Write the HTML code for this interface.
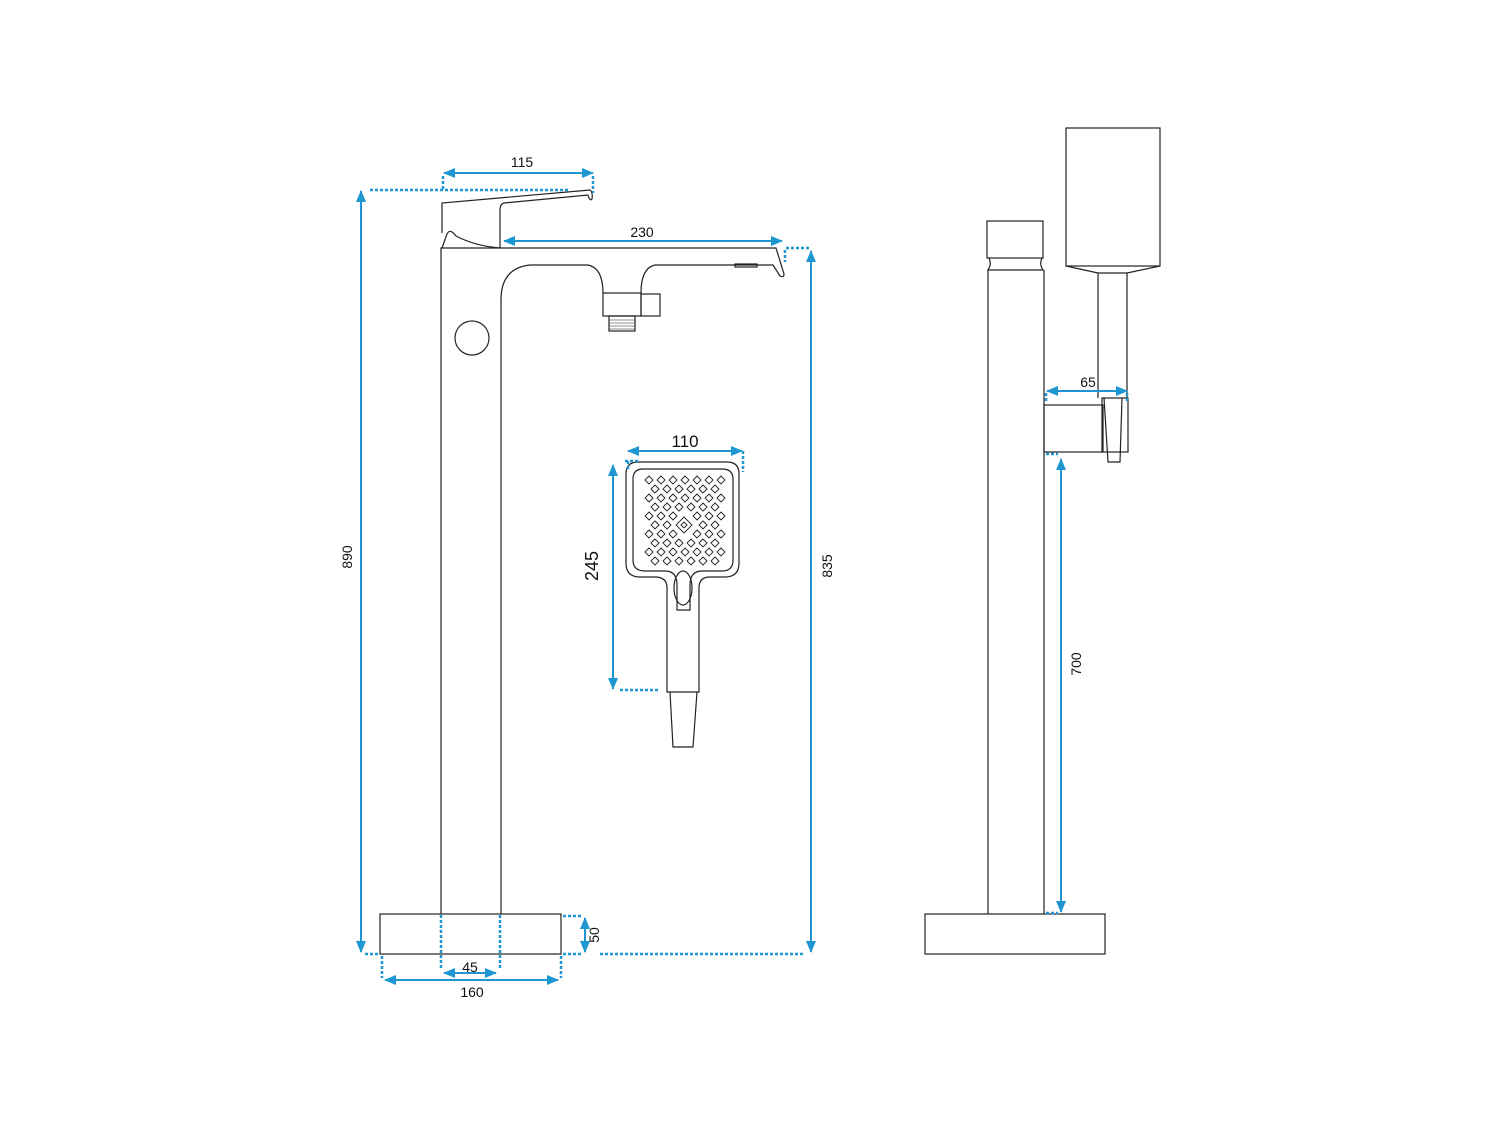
<!DOCTYPE html>
<html><head><meta charset="utf-8"><style>
html,body{margin:0;padding:0;background:#fff;}
svg{display:block;}
text{font-family:"Liberation Sans",sans-serif;fill:#111;}
</style></head><body>
<svg width="1500" height="1125" viewBox="0 0 1500 1125" xmlns="http://www.w3.org/2000/svg">
<defs>
<marker id="ar" markerWidth="12" markerHeight="10" refX="11" refY="5" orient="auto-start-reverse" markerUnits="userSpaceOnUse">
<path d="M0,0 L12,5 L0,10 Z" fill="#1e96d2"/></marker>
</defs>
<g fill="none" stroke="#222" stroke-width="1.2">
<path d="M441,914 V248 H776 L784,274 Q784,278 780,276 L773,265 H655 Q641,268 641,293 M603,293 Q603,268 588,265 H530 Q501,268 501,300 V914"/>
<rect x="735" y="264" width="22" height="3"/>
<rect x="603" y="293" width="38" height="23"/>
<rect x="641" y="294" width="19" height="22"/>
<rect x="609" y="316" width="26" height="15"/>
<path d="M609,320 H635 M609,323 H635 M609,326 H635 M609,329 H635" stroke-width="0.6"/>
<circle cx="472" cy="338" r="17"/>
<path d="M442,233 V203 L590,190 Q593,192 592,199 Q591,201 589,198 L588,195 L504,203 Q500,204 500,210 V248 M447,234 Q450,228 456,236 Q475,246 500,248 M442,248 L447,234"/>
<rect x="380" y="914" width="181" height="40"/>
<path d="M667,692 V588 Q667,577 655,577 H640 Q626,577 626,563 V474 Q626,462 638,462 H727 Q739,462 739,474 V563 Q739,577 725,577 H710 Q699,577 699,588 V692 Z"/>
<path d="M677,610 V585 Q677,571 665,571 H645 Q633,571 633,560 V479 Q633,469 643,469 H722 Q733,469 733,479 V560 Q733,571 722,571 H702 Q690,571 690,585 V610 Z"/>
<ellipse cx="683" cy="588" rx="9" ry="17"/>
<path d="M670,692 L673,747 H693 L697,692"/>
<rect x="987" y="221" width="56" height="37"/>
<path d="M989,258 Q992,264 988,270 H1043 Q1039,264 1042,258 M988,270 V914 M1044,270 V914"/>
<rect x="925" y="914" width="180" height="40"/>
<rect x="1066" y="128" width="94" height="138"/>
<path d="M1066,266 L1098,273 H1127 L1160,266 M1098,273 V398 M1127,273 V398"/>
<rect x="1044" y="405" width="59" height="47"/>
<rect x="1102" y="398" width="26" height="54"/>
<path d="M1104,398 L1108,462 H1120 L1122,398"/>
</g>
<g stroke="#1e96d2" stroke-width="2" fill="none">
<path d="M361,952 V191" marker-start="url(#ar)" marker-end="url(#ar)"/>
<path d="M811,952 V251" marker-start="url(#ar)" marker-end="url(#ar)"/>
<path d="M444,173 H593" marker-start="url(#ar)" marker-end="url(#ar)"/>
<path d="M504,241 H782" marker-start="url(#ar)" marker-end="url(#ar)"/>
<path d="M585,918 V952" marker-start="url(#ar)" marker-end="url(#ar)"/>
<path d="M385,980 H558" marker-start="url(#ar)" marker-end="url(#ar)"/>
<path d="M444,973 H496" marker-start="url(#ar)" marker-end="url(#ar)"/>
<path d="M628,451 H742" marker-start="url(#ar)" marker-end="url(#ar)"/>
<path d="M613,465 V689" marker-start="url(#ar)" marker-end="url(#ar)"/>
<path d="M1047,391 H1127" marker-start="url(#ar)" marker-end="url(#ar)"/>
<path d="M1061,459 V912" marker-start="url(#ar)" marker-end="url(#ar)"/>
</g>
<g stroke="#1e96d2" stroke-width="2.5" fill="none" stroke-dasharray="3,2">
<path d="M370,190 H568 M443,176 V190 M593,176 V193"/>
<path d="M786,248 H810 M785,250 V262"/>
<path d="M365,954 H380 M600,954 H805"/>
<path d="M563,916 H583 M563,954 H583"/>
<path d="M382,956 V978 M561,956 V978 M441,915 V970 M500,915 V970"/>
<path d="M625,461 H640 M628,461 V470 M743,451 V472 M620,690 H660"/>
<path d="M1046,393 V403 M1127,393 V403 M1046,454 H1058 M1046,913 H1058"/>
</g>
<g font-size="14">
<text x="522" y="167" text-anchor="middle">115</text>
<text x="642" y="237" text-anchor="middle">230</text>
<text x="470" y="972" text-anchor="middle">45</text>
<text x="472" y="997" text-anchor="middle">160</text>
<text x="1088" y="387" text-anchor="middle">65</text>
<text transform="translate(352,557) rotate(-90)" text-anchor="middle">890</text>
<text transform="translate(832,566) rotate(-90)" text-anchor="middle">835</text>
<text transform="translate(599,935) rotate(-90)" text-anchor="middle">50</text>
<text transform="translate(1081,664) rotate(-90)" text-anchor="middle">700</text>
</g>
<text x="685" y="447" text-anchor="middle" font-size="17">110</text>
<text transform="translate(598,566) rotate(-90)" text-anchor="middle" font-size="18">245</text>
<g fill="none" stroke="#222" stroke-width="0.9">
<path d="
M649,476 l4,4 l-4,4 l-4,-4z M661,476 l4,4 l-4,4 l-4,-4z M673,476 l4,4 l-4,4 l-4,-4z M685,476 l4,4 l-4,4 l-4,-4z M697,476 l4,4 l-4,4 l-4,-4z M709,476 l4,4 l-4,4 l-4,-4z M721,476 l4,4 l-4,4 l-4,-4z
M655,485 l4,4 l-4,4 l-4,-4z M667,485 l4,4 l-4,4 l-4,-4z M679,485 l4,4 l-4,4 l-4,-4z M691,485 l4,4 l-4,4 l-4,-4z M703,485 l4,4 l-4,4 l-4,-4z M715,485 l4,4 l-4,4 l-4,-4z
M649,494 l4,4 l-4,4 l-4,-4z M661,494 l4,4 l-4,4 l-4,-4z M673,494 l4,4 l-4,4 l-4,-4z M685,494 l4,4 l-4,4 l-4,-4z M697,494 l4,4 l-4,4 l-4,-4z M709,494 l4,4 l-4,4 l-4,-4z M721,494 l4,4 l-4,4 l-4,-4z
M655,503 l4,4 l-4,4 l-4,-4z M667,503 l4,4 l-4,4 l-4,-4z M679,503 l4,4 l-4,4 l-4,-4z M691,503 l4,4 l-4,4 l-4,-4z M703,503 l4,4 l-4,4 l-4,-4z M715,503 l4,4 l-4,4 l-4,-4z
M649,512 l4,4 l-4,4 l-4,-4z M661,512 l4,4 l-4,4 l-4,-4z M673,512 l4,4 l-4,4 l-4,-4z M697,512 l4,4 l-4,4 l-4,-4z M709,512 l4,4 l-4,4 l-4,-4z M721,512 l4,4 l-4,4 l-4,-4z
M684,517 l8,8 l-8,8 l-8,-8z M684,522 l3,3 l-3,3 l-3,-3z
M655,521 l4,4 l-4,4 l-4,-4z M667,521 l4,4 l-4,4 l-4,-4z M703,521 l4,4 l-4,4 l-4,-4z M715,521 l4,4 l-4,4 l-4,-4z
M649,530 l4,4 l-4,4 l-4,-4z M661,530 l4,4 l-4,4 l-4,-4z M673,530 l4,4 l-4,4 l-4,-4z M697,530 l4,4 l-4,4 l-4,-4z M709,530 l4,4 l-4,4 l-4,-4z M721,530 l4,4 l-4,4 l-4,-4z
M655,539 l4,4 l-4,4 l-4,-4z M667,539 l4,4 l-4,4 l-4,-4z M679,539 l4,4 l-4,4 l-4,-4z M691,539 l4,4 l-4,4 l-4,-4z M703,539 l4,4 l-4,4 l-4,-4z M715,539 l4,4 l-4,4 l-4,-4z
M649,548 l4,4 l-4,4 l-4,-4z M661,548 l4,4 l-4,4 l-4,-4z M673,548 l4,4 l-4,4 l-4,-4z M685,548 l4,4 l-4,4 l-4,-4z M697,548 l4,4 l-4,4 l-4,-4z M709,548 l4,4 l-4,4 l-4,-4z M721,548 l4,4 l-4,4 l-4,-4z
M655,557 l4,4 l-4,4 l-4,-4z M667,557 l4,4 l-4,4 l-4,-4z M679,557 l4,4 l-4,4 l-4,-4z M691,557 l4,4 l-4,4 l-4,-4z M703,557 l4,4 l-4,4 l-4,-4z M715,557 l4,4 l-4,4 l-4,-4z
"/>
</g>
</svg>
</body></html>
